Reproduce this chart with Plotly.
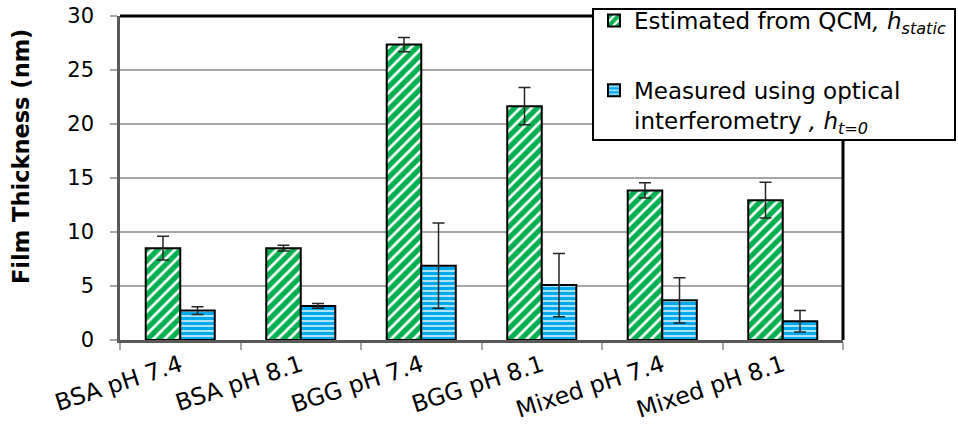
import plotly.graph_objects as go

categories = ["BSA pH 7.4", "BSA pH 8.1", "BGG pH 7.4", "BGG pH 8.1", "Mixed pH 7.4", "Mixed pH 8.1"]
qcm_values = [8.5, 8.5, 27.35, 21.65, 13.85, 12.95]
qcm_errors = [1.1, 0.27, 0.65, 1.73, 0.7, 1.65]
optical_values = [2.72, 3.15, 6.88, 5.09, 3.67, 1.73]
optical_errors = [0.35, 0.22, 3.95, 2.93, 2.1, 1.0]
y_ticks = [0, 5, 10, 15, 20, 25, 30]

FONT = "DejaVu Sans"
W, H = 958, 438
ML, MR, MT, MB = 120, 115, 16, 98
PW, PH = W - ML - MR, H - MT - MB


def px_x(px):
    return (px - ML) / PW


def px_y(py):
    return (H - MB - py) / PH


fig = go.Figure()
fig.add_trace(go.Bar(
    x=categories, y=qcm_values,
    name="Estimated from QCM<i>, h<sub>static</sub></i>",
    legendgroup="a",
    marker=dict(color="white", line=dict(color="black", width=2),
                pattern=dict(shape="/", fgcolor="#00B050", bgcolor="white", size=8,
                             solidity=0.66, fgopacity=1)),
    error_y=dict(type="data", array=qcm_errors, color="#262626", thickness=1.5, width=6),
))
fig.add_trace(go.Bar(
    x=categories, y=optical_values,
    name="Measured using optical<br>interferometry<i> , h<sub>t=0</sub></i>",
    legendgroup="b",
    marker=dict(color="white", line=dict(color="black", width=2),
                pattern=dict(shape="-", fgcolor="#00AAEC", bgcolor="#ACE5FA", size=5,
                             solidity=0.6, fgopacity=1)),
    error_y=dict(type="data", array=optical_errors, color="#262626", thickness=1.5, width=6),
))

fig.update_layout(
    width=W, height=H,
    margin=dict(l=ML, r=MR, t=MT, b=MB, autoexpand=False),
    paper_bgcolor="white", plot_bgcolor="white",
    font=dict(family=FONT, color="black", size=21),
    barmode="group", bargap=0.427, bargroupgap=0,
    showlegend=True,
    legend=dict(
        x=px_x(594), y=px_y(-1), xanchor="left", yanchor="top",
        bgcolor="rgba(0,0,0,0)", borderwidth=0,
        font=dict(family=FONT, size=23, color="black"),
        traceorder="grouped", tracegroupgap=37, valign="top",
    ),
    xaxis=dict(
        type="category", showline=True, linecolor="#595959", linewidth=2.5,
        ticks="outside", tickson="boundaries", ticklen=7, tickcolor="#A6A6A6", tickwidth=1.5,
        tickangle=-18, tickfont=dict(family=FONT, size=23.5, color="black"),
        showgrid=False, automargin=False,
    ),
    yaxis=dict(
        range=[0, 30], tickvals=y_ticks, showline=True, linecolor="#595959", linewidth=2.5,
        ticks="outside", ticklen=7, tickcolor="#A6A6A6", tickwidth=1.5,
        showgrid=True, gridcolor="#A6A6A6", gridwidth=1.5, zeroline=False,
        tickfont=dict(family=FONT, size=21, color="black"), ticklabelstandoff=12,
        automargin=False,
    ),
    annotations=[dict(
        text="<b>Film Thickness (nm)</b>", textangle=-90,
        xref="paper", yref="paper", x=0, y=0.5, xanchor="center", yanchor="middle",
        xshift=-99, yshift=21, showarrow=False,
        font=dict(family=FONT, size=22.5, color="black"),
    )],
    shapes=[
        dict(type="line", xref="paper", yref="paper", x0=0, x1=1, y0=1, y1=1,
             line=dict(color="black", width=3), layer="above"),
        dict(type="line", xref="paper", yref="paper", x0=1, x1=1, y0=0, y1=1,
             line=dict(color="black", width=3), layer="above"),
        # legend box
        dict(type="rect", xref="paper", yref="paper",
             x0=px_x(593), x1=px_x(955), y0=px_y(140), y1=px_y(9),
             fillcolor="white", line=dict(color="black", width=2), layer="above"),
    ],
)

fig.write_html("out.html")

with open("out.html", "r", encoding="utf-8") as f:
    html = f.read()
html = html.replace("<head>", "<head><style>html,body{margin:0;padding:0;overflow:hidden;}</style>", 1)
with open("out.html", "w", encoding="utf-8") as f:
    f.write(html)
